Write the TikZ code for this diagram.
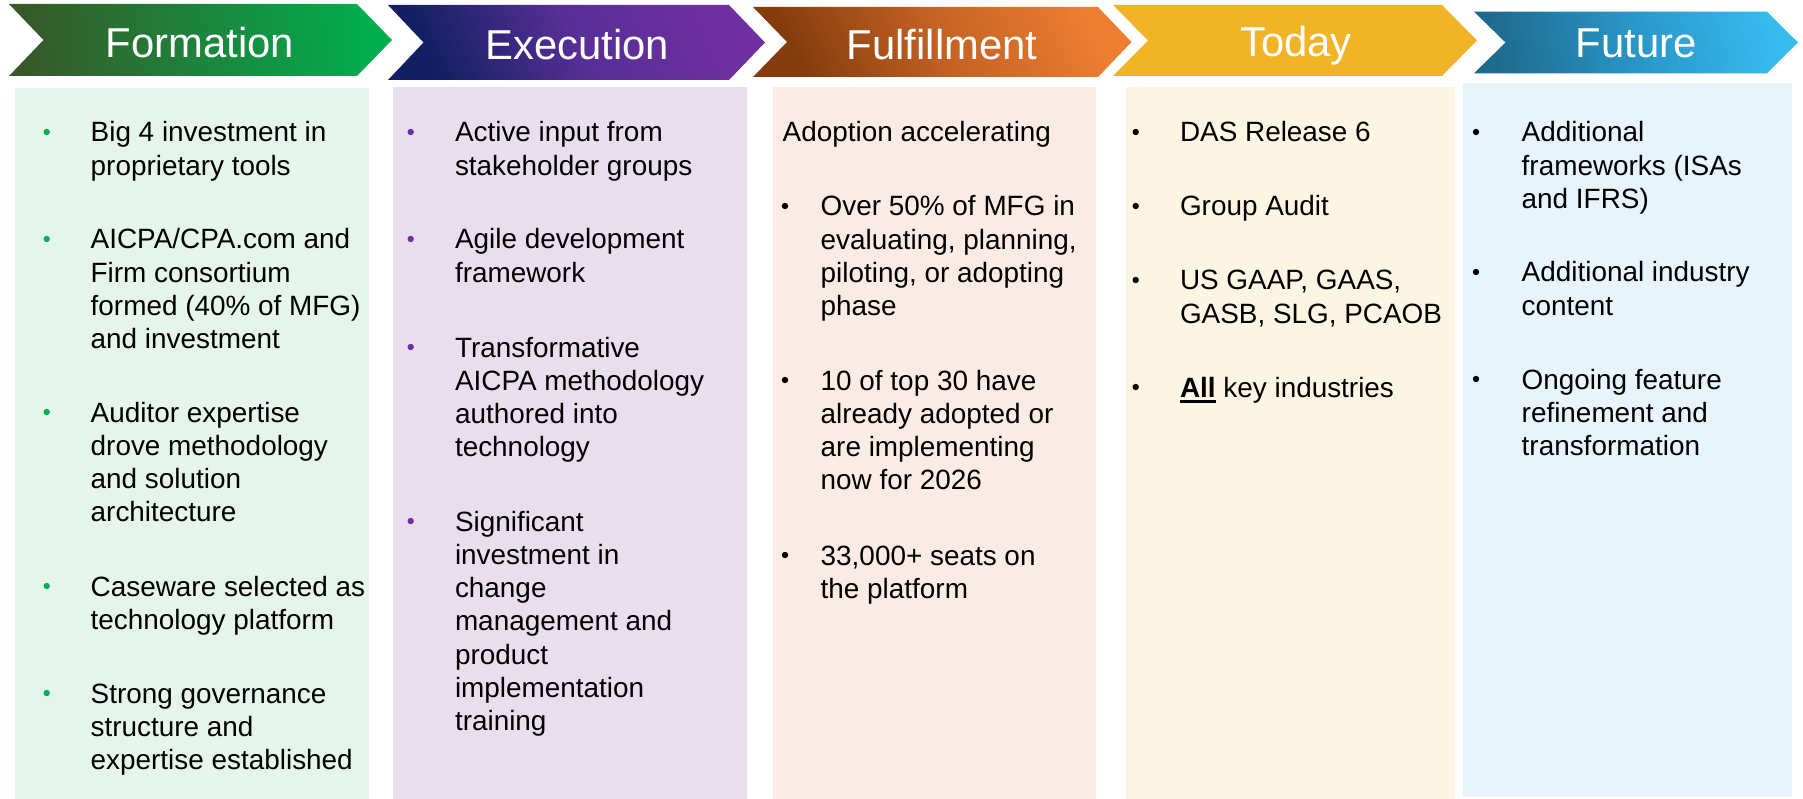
\documentclass[tikz,border=0pt]{standalone}
\usepackage{fontspec}
\setmainfont{Liberation Sans}
\definecolor{fgL}{RGB}{56,88,40}
\definecolor{fgR}{RGB}{0,176,80}
\definecolor{egL}{RGB}{18,32,98}
\definecolor{egM}{RGB}{88,46,150}
\definecolor{egR}{RGB}{112,48,160}
\definecolor{ugL}{RGB}{132,60,12}
\definecolor{ugM}{RGB}{196,98,36}
\definecolor{ugR}{RGB}{237,125,49}
\definecolor{tgC}{RGB}{240,180,38}
\definecolor{rgL}{RGB}{30,106,140}
\definecolor{rgM}{RGB}{42,150,200}
\definecolor{rgR}{RGB}{55,188,240}
\definecolor{fpan}{RGB}{230,245,236}
\definecolor{epan}{RGB}{233,222,237}
\definecolor{upan}{RGB}{250,236,228}
\definecolor{tpan}{RGB}{253,245,228}
\definecolor{rpan}{RGB}{231,244,251}
\definecolor{bgreen}{RGB}{0,176,80}
\definecolor{bpurple}{RGB}{112,48,160}
\newcommand\itemlines[1]{\vtop{\baselineskip=33.3pt\lineskiplimit=-100pt\lineskip=0pt\halign{##\hfil\cr#1\crcr}}}
\newcommand\ulbold[1]{\setbox0\hbox{\bfseries #1}\rlap{\vrule width\wd0 height -3pt depth 5.5pt}\box0\relax}
\begin{document}
\begin{tikzpicture}[x=1pt,y=-1pt,
  txt/.style={anchor=base west, inner sep=0pt, outer sep=0pt, font=\fontsize{27.9}{33.3}\selectfont, text=black},
  hdr/.style={anchor=base, inner sep=0pt, font=\fontsize{41.8}{50}\selectfont, text=white},
  bul/.style={fill=black}]
\useasboundingbox (0,0) rectangle (1803,799);
\fill[white] (0,0) rectangle (1803,799);
% panels
\fill[fpan] (15,88) rectangle (369,799);
\fill[epan] (393,87) rectangle (747,799);
\fill[upan] (773,87) rectangle (1096,799);
\fill[tpan] (1126,87) rectangle (1455,799);
\fill[rpan] (1463,83) rectangle (1792,797);
% chevrons
\shade[left color=fgL, right color=fgR, shading angle=95]
  (9,4) -- (357,4) -- (392,40) -- (357,76) -- (9,76) -- (43.5,40) -- cycle;
\shade[left color=egL, right color=egR, middle color=egM, shading angle=115]
  (388,5) -- (729,5) -- (765,42.5) -- (729,80) -- (388,80) -- (423.5,42.5) -- cycle;
\shade[left color=ugL, right color=ugR, middle color=ugM, shading angle=115]
  (753,7) -- (1098,7) -- (1131.5,42) -- (1098,77) -- (753,77) -- (787,42) -- cycle;
\fill[tgC]
  (1113,5) -- (1442,5) -- (1477,40.5) -- (1442,76) -- (1113,76) -- (1148,40.5) -- cycle;
\shade[left color=rgL, right color=rgR, middle color=rgM, shading angle=100]
  (1474,11.7) -- (1767,11.7) -- (1798,42.5) -- (1767,73.3) -- (1474,73.3) -- (1505.5,42.5) -- cycle;
% headers
\node[hdr] (hform) at (200,57.5) {Formation};
\node[hdr] (hexec) at (577,60) {Execution};
\node[hdr] (hfulf) at (942,59.5) {Fulfillment};
\node[hdr] (htoday) at (1296,57) {Today};
\node[hdr] (hfut) at (1636,57.5) {Future};
% Formation
\foreach \yy in {142,249,422,596,703} \fill[bgreen] (46.7,\yy-10) circle[radius=3.2pt];
\node[txt] (f1) at (90.7,142) {\itemlines{Big 4 investment in\cr proprietary tools}};
\node[txt] (f2) at (90.7,249) {\itemlines{AICPA/CPA.com and\cr Firm consortium\cr formed (40\% of MFG)\cr and investment}};
\node[txt] (f3) at (90.7,422) {\itemlines{Auditor expertise\cr drove methodology\cr and solution\cr architecture}};
\node[txt] (f4) at (90.7,596) {\itemlines{Caseware selected as\cr technology platform}};
\node[txt] (f5) at (90.7,703) {\itemlines{Strong governance\cr structure and\cr expertise established}};
% Execution
\foreach \yy in {142,249,357,531} \fill[bpurple] (410.7,\yy-10) circle[radius=3.2pt];
\node[txt] (e1) at (455,142) {\itemlines{Active input from\cr stakeholder groups}};
\node[txt] (e2) at (455,249) {\itemlines{Agile development\cr framework}};
\node[txt] (e3) at (455,357) {\itemlines{Transformative\cr AICPA methodology\cr authored into\cr technology}};
\node[txt] (e4) at (455,531) {\itemlines{Significant\cr investment in\cr change\cr management and\cr product\cr implementation\cr training}};
% Fulfillment
\node[txt] (u0) at (782.7,142) {Adoption accelerating};
\foreach \yy in {216,390,565} \fill[bul] (785,\yy-10) circle[radius=3.2pt];
\node[txt] (u1) at (820.7,216) {\itemlines{Over 50\% of MFG in\cr evaluating, planning,\cr piloting, or adopting\cr phase}};
\node[txt] (u2) at (820.7,390) {\itemlines{10 of top 30 have\cr already adopted or\cr are implementing\cr now for 2026}};
\node[txt] (u3) at (820.7,565) {\itemlines{33,000+ seats on\cr the platform}};
% Today
\foreach \yy in {142,216,290,397} \fill[bul] (1135.7,\yy-10) circle[radius=3.2pt];
\node[txt] (t1) at (1180,142) {DAS Release 6};
\node[txt] (t2) at (1180,216) {Group Audit};
\node[txt] (t3) at (1180,290) {\itemlines{US GAAP, GAAS,\cr GASB, SLG, PCAOB}};
\node[txt] (t4) at (1180,397) {\ulbold{All} key industries};
% Future
\foreach \yy in {142,282,389} \fill[bul] (1476,\yy-10) circle[radius=3.2pt];
\node[txt] (r1) at (1521.7,142) {\itemlines{Additional\cr frameworks (ISAs\cr and IFRS)}};
\node[txt] (r2) at (1521.7,282) {\itemlines{Additional industry\cr content}};
\node[txt] (r3) at (1521.7,389) {\itemlines{Ongoing feature\cr refinement and\cr transformation}};
\end{tikzpicture}
\end{document}
